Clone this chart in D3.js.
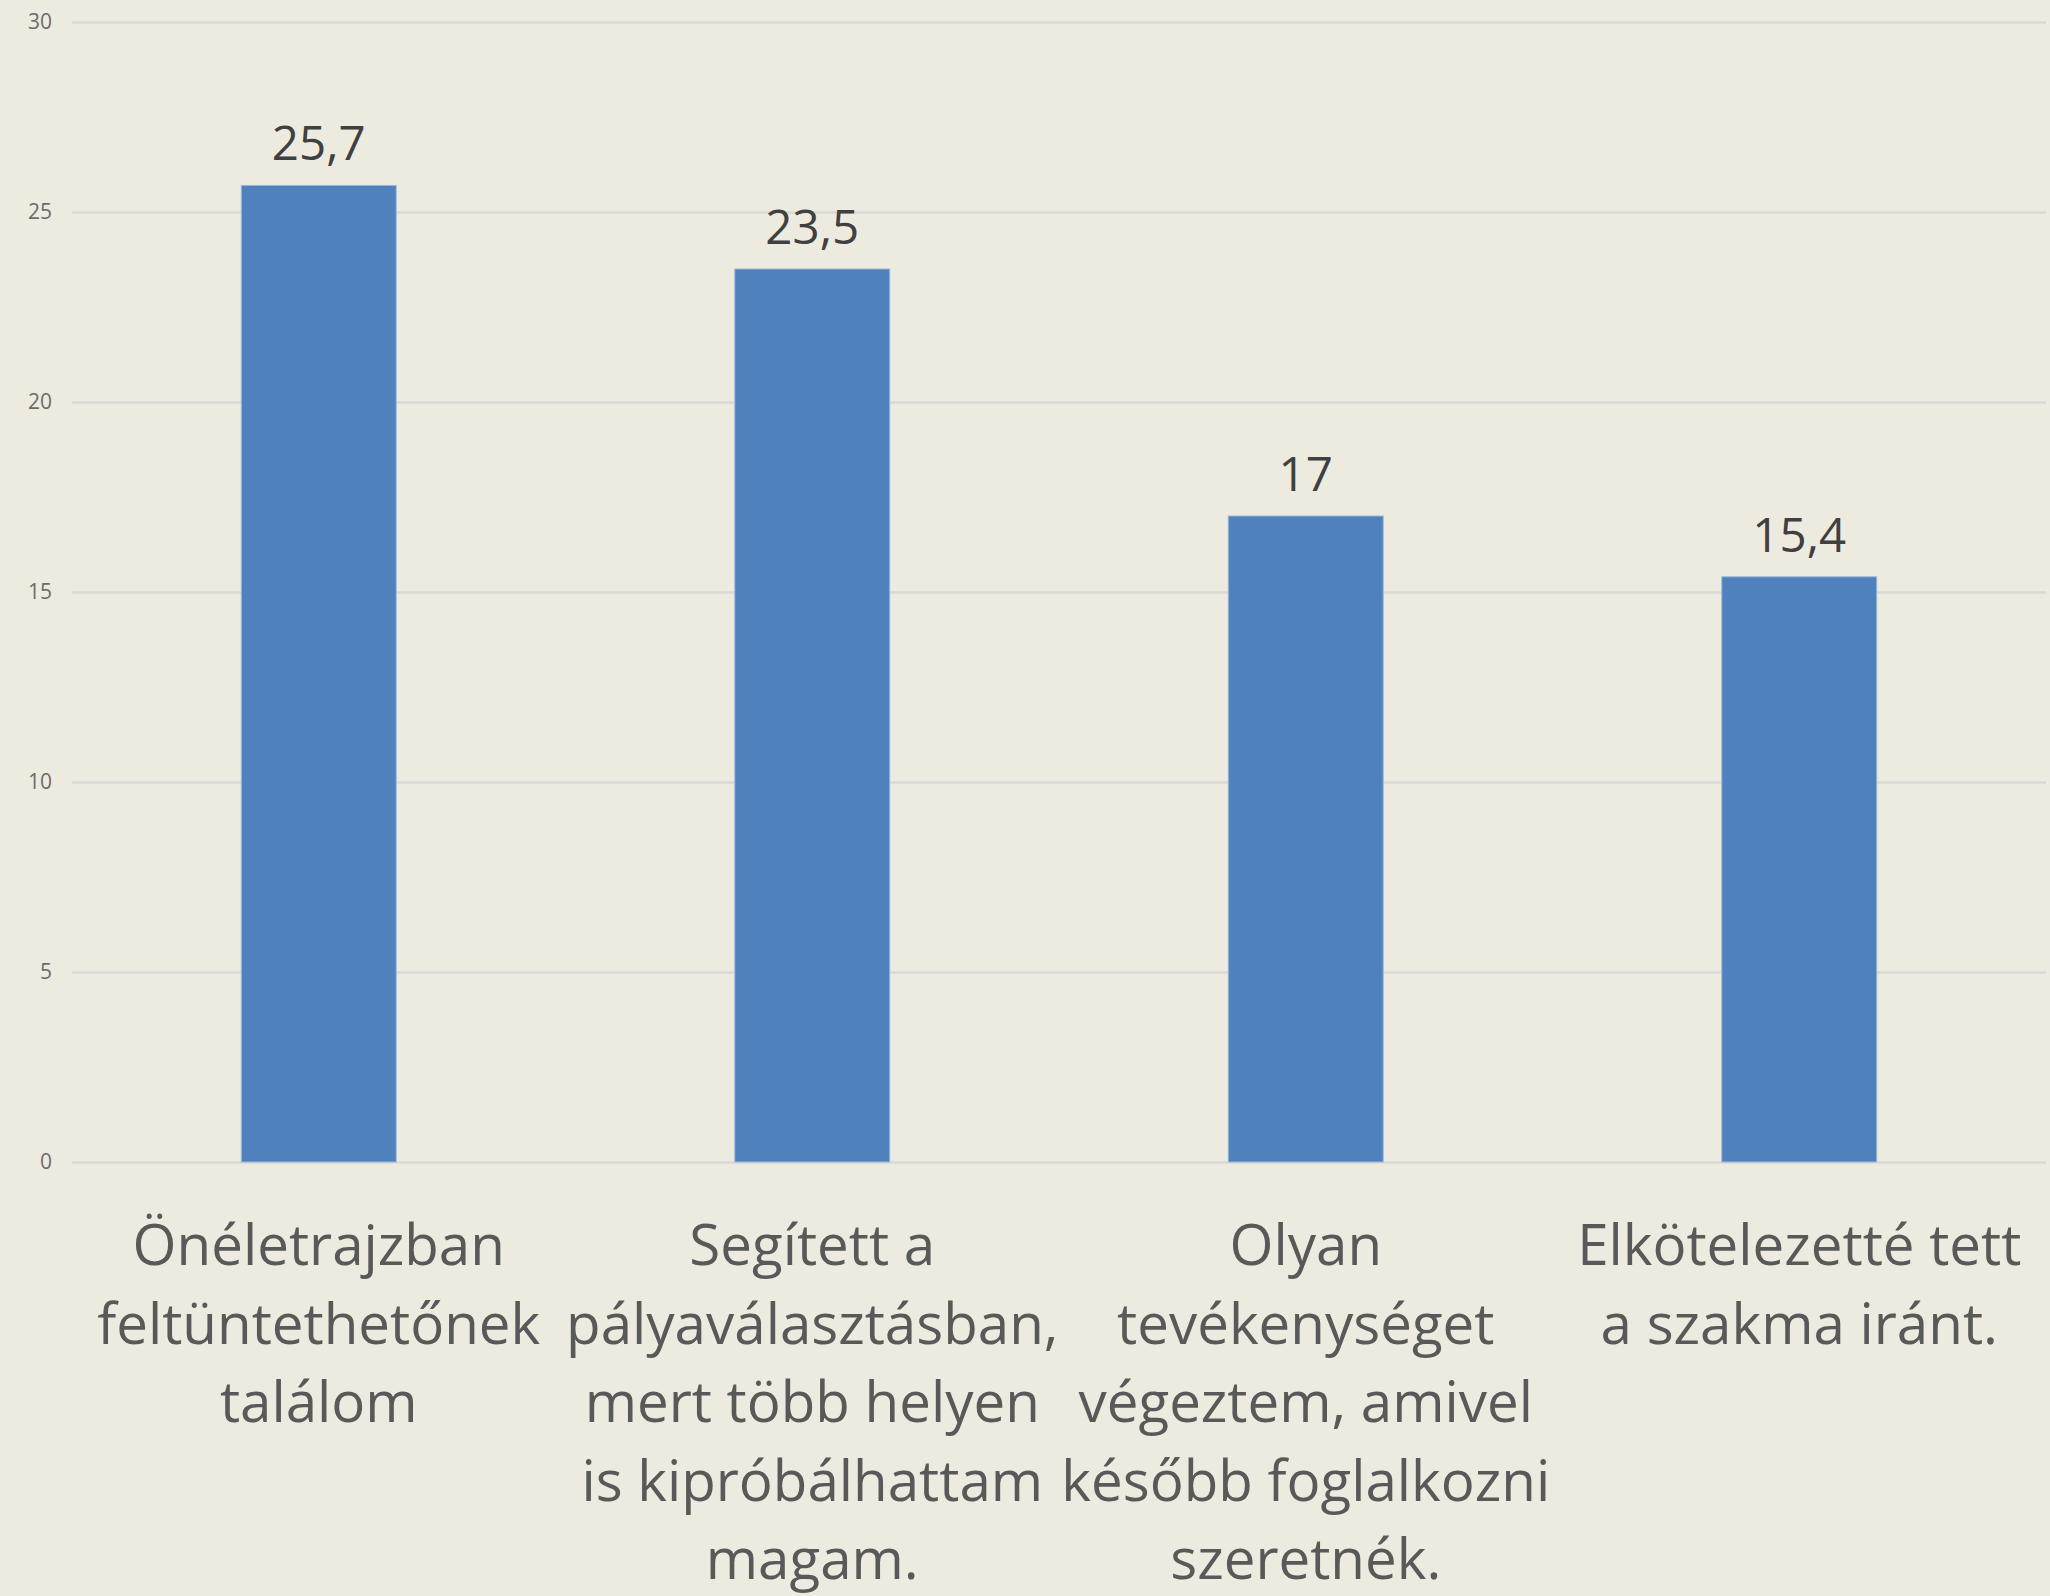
<!DOCTYPE html>
<html>
<head>
<meta charset="utf-8">
<script src="https://cdn.jsdelivr.net/npm/d3@7"></script>
<style>
  html, body { margin: 0; padding: 0; background: #edebe0; }
  svg { display: block; }
</style>
</head>
<body>
<script>
// chart data
var categories = [
  "Önéletrajzban\nfeltüntethetőnek\ntalálom",
  "Segített a\npályaválasztásban,\nmert több helyen\nis kipróbálhattam\nmagam.",
  "Olyan\ntevékenységet\nvégeztem, amivel\nkésőbb foglalkozni\nszeretnék.",
  "Elkötelezetté tett\na szakma iránt."
];
var values = [25.7, 23.5, 17, 15.4];
var valueLabels = ["25,7", "23,5", "17", "15,4"];
var yTicks = [0, 5, 10, 15, 20, 25, 30];

var width = 2050, height = 1596;
var font = "'Open Sans', sans-serif";

var svg = d3.select("body").append("svg")
    .attr("width", width)
    .attr("height", height);

svg.append("rect")
    .attr("width", width)
    .attr("height", height)
    .attr("fill", "#edebe0");

var x = d3.scaleBand()
    .domain(categories)
    .range([72, 2046])
    .paddingInner(0.686)
    .paddingOuter(0.343);

var y = d3.scaleLinear()
    .domain([0, 30])
    .range([1162, 22]);

// gridlines + tick labels
var yAxis = d3.axisLeft(y)
    .tickValues(yTicks)
    .tickSize(-(2046 - 72))
    .tickPadding(20);

var gy = svg.append("g")
    .attr("transform", "translate(72,0)")
    .call(yAxis);

gy.select(".domain").remove();
gy.selectAll(".tick line")
    .attr("stroke", "#d9d9d6")
    .attr("stroke-width", 2.5);
gy.selectAll(".tick text")
    .attr("fill", "#6b6b6b")
    .style("font-family", font)
    .style("font-size", "21px");

// bars
svg.selectAll("rect.bar")
    .data(values)
    .enter().append("rect")
    .attr("class", "bar")
    .attr("x", function(d, i) { return x(categories[i]); })
    .attr("y", function(d) { return y(d); })
    .attr("width", x.bandwidth())
    .attr("height", function(d) { return y(0) - y(d); })
    .attr("fill", "#4f81bd")
    .attr("stroke", "#9fb8da")
    .attr("stroke-width", 1);

// value labels
svg.selectAll("text.val")
    .data(values)
    .enter().append("text")
    .attr("class", "val")
    .attr("x", function(d, i) { return x(categories[i]) + x.bandwidth() / 2; })
    .attr("y", function(d) { return y(d) - 25; })
    .attr("text-anchor", "middle")
    .attr("fill", "#404040")
    .style("font-family", font)
    .style("font-size", "47.5px")
    .text(function(d, i) { return valueLabels[i]; });

// category labels, line by line
var cat = svg.selectAll("text.cat")
    .data(categories)
    .enter().append("text")
    .attr("class", "cat")
    .attr("text-anchor", "middle")
    .attr("fill", "#595959")
    .style("font-family", font)
    .style("font-size", "56.5px");

cat.selectAll("tspan")
    .data(function(d) { return d.split("\n").map(function(t) { return { t: t, c: d }; }); })
    .enter().append("tspan")
    .attr("x", function(d) { return x(d.c) + x.bandwidth() / 2; })
    .attr("y", function(d, i) { return 1265 + i * 78.5; })
    .text(function(d) { return d.t; });
</script>
</body>
</html>
